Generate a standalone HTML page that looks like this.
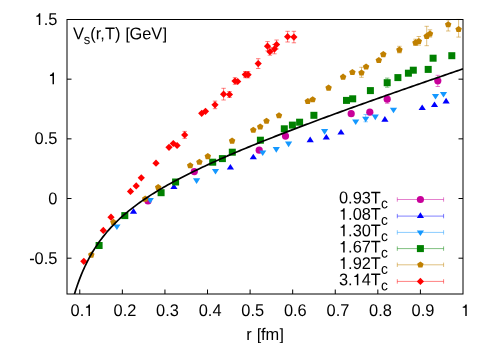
<!DOCTYPE html>
<html><head><meta charset="utf-8"><title>Vs(r,T)</title>
<style>
html,body{margin:0;padding:0;background:#fff;}
svg{display:block;will-change:transform;}
text{font-family:"Liberation Sans",sans-serif;font-size:16.4px;fill:#000;text-rendering:geometricPrecision;}
.sub{font-size:13.8px;}
.subs{font-size:13px;}
.hg{fill:none;}
</style></head>
<body>
<svg width="491" height="343" viewBox="0 0 491 343">
<rect x="0" y="0" width="491" height="343" fill="#fff"/>
<path d="M67.0 258.20h4.5M463.0 258.20h-4.5M67.0 198.52h4.5M463.0 198.52h-4.5M67.0 138.85h4.5M463.0 138.85h-4.5M67.0 79.17h4.5M463.0 79.17h-4.5M79.77 294.0v-4.5M122.35 294.0v-4.5M164.94 294.0v-4.5M207.52 294.0v-4.5M250.10 294.0v-4.5M292.68 294.0v-4.5M335.26 294.0v-4.5M377.84 294.0v-4.5M420.42 294.0v-4.5" stroke="#000" stroke-width="1" fill="none"/>
<text transform="translate(57.4 25.0) rotate(0.03) scale(1 1.035)" text-anchor="end"><tspan class="hg g1">1</tspan>.5</text>
<text transform="translate(57.4 84.2) rotate(0.03) scale(1 1.035)" text-anchor="end"><tspan class="hg g1">1</tspan></text>
<text transform="translate(57.4 144.0) rotate(0.03) scale(1 1.035)" text-anchor="end">0.5</text>
<text transform="translate(57.4 204.2) rotate(0.03) scale(1 1.035)" text-anchor="end">0</text>
<text transform="translate(57.4 264.0) rotate(0.03) scale(1 1.035)" text-anchor="end">-0.5</text>
<text transform="translate(82.0 316) rotate(0.03) scale(1 1.035)" text-anchor="middle">0.<tspan class="hg g1">1</tspan></text>
<text transform="translate(125.0 316) rotate(0.03) scale(1 1.035)" text-anchor="middle">0.2</text>
<text transform="translate(167.5 316) rotate(0.03) scale(1 1.035)" text-anchor="middle">0.3</text>
<text transform="translate(210.1 316) rotate(0.03) scale(1 1.035)" text-anchor="middle">0.4</text>
<text transform="translate(252.7 316) rotate(0.03) scale(1 1.035)" text-anchor="middle">0.5</text>
<text transform="translate(295.3 316) rotate(0.03) scale(1 1.035)" text-anchor="middle">0.6</text>
<text transform="translate(337.9 316) rotate(0.03) scale(1 1.035)" text-anchor="middle">0.7</text>
<text transform="translate(380.4 316) rotate(0.03) scale(1 1.035)" text-anchor="middle">0.8</text>
<text transform="translate(423.0 316) rotate(0.03) scale(1 1.035)" text-anchor="middle">0.9</text>
<text transform="translate(465.6 316) rotate(0.03) scale(1 1.035)" text-anchor="middle"><tspan class="hg g1">1</tspan></text>
<text transform="translate(265 340.0) rotate(0.03) scale(1 1.035)" text-anchor="middle">r <tspan class="hg gl">[</tspan>fm<tspan class="hg gr">]</tspan></text>
<text transform="translate(72.9 39.2) rotate(0.03) scale(1 1.035)">V<tspan class="subs" dy="4.6">s</tspan><tspan dy="-4.6">(r,T) <tspan class="hg gl">[</tspan>GeV<tspan class="hg gr">]</tspan></tspan></text>
<g><path d="M387.2 95.0V103.3M385.0 95.0H389.4M385.0 103.3H389.4" stroke="#c8009a" stroke-width="0.5" fill="none"/><path d="M437.8 75.3V86.5M435.6 75.3H440.0M435.6 86.5H440.0" stroke="#c8009a" stroke-width="0.5" fill="none"/><circle cx="148.0" cy="201.0" r="3.6" fill="#c8009a"/><circle cx="194.3" cy="171.6" r="3.6" fill="#c8009a"/><circle cx="259.2" cy="150.2" r="3.6" fill="#c8009a"/><circle cx="285.5" cy="136.1" r="3.6" fill="#c8009a"/><circle cx="351.2" cy="113.7" r="3.6" fill="#c8009a"/><circle cx="369.8" cy="112.2" r="3.6" fill="#c8009a"/><circle cx="387.2" cy="99.2" r="3.6" fill="#c8009a"/><circle cx="437.8" cy="80.8" r="3.6" fill="#c8009a"/></g>
<g><path d="M133.5 208.1L137.1 213.7H129.9Z" fill="#0000ff"/><path d="M173.9 183.5L177.5 189.1H170.3Z" fill="#0000ff"/><path d="M230.4 163.9L234.0 169.5H226.8Z" fill="#0000ff"/><path d="M253.3 153.7L256.9 159.3H249.7Z" fill="#0000ff"/><path d="M310.2 136.6L313.8 142.2H306.6Z" fill="#0000ff"/><path d="M326.3 133.9L329.9 139.5H322.7Z" fill="#0000ff"/><path d="M341.0 129.0L344.6 134.6H337.4Z" fill="#0000ff"/><path d="M384.9 116.1L388.5 121.7H381.3Z" fill="#0000ff"/><path d="M422.2 104.5L425.8 110.1H418.6Z" fill="#0000ff"/><path d="M434.5 101.5L438.1 107.1H430.9Z" fill="#0000ff"/><path d="M446.1 97.8L449.7 103.4H442.5Z" fill="#0000ff"/></g>
<g><path d="M365.7 114.5V121.8M363.5 114.5H367.9M363.5 121.8H367.9" stroke="#1498ff" stroke-width="0.5" fill="none"/><path d="M116.9 230.0L120.5 224.4H113.3Z" fill="#1498ff"/><path d="M150.3 203.5L153.9 197.9H146.7Z" fill="#1498ff"/><path d="M196.6 183.9L200.2 178.3H193.0Z" fill="#1498ff"/><path d="M215.5 174.5L219.1 168.9H211.9Z" fill="#1498ff"/><path d="M262.7 156.0L266.3 150.4H259.1Z" fill="#1498ff"/><path d="M276.3 152.7L279.9 147.1H272.7Z" fill="#1498ff"/><path d="M288.6 147.2L292.2 141.6H285.0Z" fill="#1498ff"/><path d="M324.6 134.7L328.2 129.1H321.0Z" fill="#1498ff"/><path d="M355.7 125.1L359.3 119.5H352.1Z" fill="#1498ff"/><path d="M365.7 122.3L369.3 116.7H362.1Z" fill="#1498ff"/><path d="M375.3 120.2L378.9 114.6H371.7Z" fill="#1498ff"/><path d="M393.5 113.3L397.1 107.7H389.9Z" fill="#1498ff"/><path d="M435.5 99.6L439.1 94.0H431.9Z" fill="#1498ff"/><path d="M443.5 97.6L447.1 92.0H439.9Z" fill="#1498ff"/></g>
<g><path d="M387.2 78.1V87.2M385.0 78.1H389.4M385.0 87.2H389.4" stroke="#008000" stroke-width="0.5" fill="none"/><rect x="95.6" y="242.0" width="7.0" height="7.0" fill="#008000"/><rect x="121.3" y="212.1" width="7.0" height="7.0" fill="#008000"/><rect x="157.6" y="189.2" width="7.0" height="7.0" fill="#008000"/><rect x="172.1" y="178.5" width="7.0" height="7.0" fill="#008000"/><rect x="209.2" y="158.7" width="7.0" height="7.0" fill="#008000"/><rect x="218.9" y="155.1" width="7.0" height="7.0" fill="#008000"/><rect x="228.8" y="148.7" width="7.0" height="7.0" fill="#008000"/><rect x="256.9" y="136.7" width="7.0" height="7.0" fill="#008000"/><rect x="280.8" y="125.3" width="7.0" height="7.0" fill="#008000"/><rect x="288.9" y="121.6" width="7.0" height="7.0" fill="#008000"/><rect x="296.1" y="118.7" width="7.0" height="7.0" fill="#008000"/><rect x="310.4" y="111.8" width="7.0" height="7.0" fill="#008000"/><rect x="343.0" y="96.9" width="7.0" height="7.0" fill="#008000"/><rect x="349.2" y="95.3" width="7.0" height="7.0" fill="#008000"/><rect x="366.9" y="87.1" width="7.0" height="7.0" fill="#008000"/><rect x="383.7" y="79.2" width="7.0" height="7.0" fill="#008000"/><rect x="394.4" y="74.1" width="7.0" height="7.0" fill="#008000"/><rect x="404.9" y="69.7" width="7.0" height="7.0" fill="#008000"/><rect x="409.8" y="66.7" width="7.0" height="7.0" fill="#008000"/><rect x="424.7" y="65.9" width="7.0" height="7.0" fill="#008000"/><rect x="429.6" y="54.7" width="7.0" height="7.0" fill="#008000"/><rect x="448.3" y="52.2" width="7.0" height="7.0" fill="#008000"/></g>
<g><path d="M361.5 67.3V77.3M359.3 67.3H363.7M359.3 77.3H363.7" stroke="#c08000" stroke-width="0.5" fill="none"/><path d="M399.4 46.3V52.9M397.2 46.3H401.6M397.2 52.9H401.6" stroke="#c08000" stroke-width="0.5" fill="none"/><path d="M415.5 39.2V45.5M413.3 39.2H417.7M413.3 45.5H417.7" stroke="#c08000" stroke-width="0.5" fill="none"/><path d="M418.8 36.5V45.1M416.6 36.5H421.0M416.6 45.1H421.0" stroke="#c08000" stroke-width="0.5" fill="none"/><path d="M426.7 26.3V45.7M424.5 26.3H428.9M424.5 45.7H428.9" stroke="#c08000" stroke-width="0.5" fill="none"/><path d="M430.0 29.8V37.1M427.8 29.8H432.2M427.8 37.1H432.2" stroke="#c08000" stroke-width="0.5" fill="none"/><path d="M448.2 19.8V31.0M446.0 19.8H450.4M446.0 31.0H450.4" stroke="#c08000" stroke-width="0.5" fill="none"/><path d="M458.6 19.4V37.1M456.4 19.4H460.8M456.4 37.1H460.8" stroke="#c08000" stroke-width="0.5" fill="none"/><polygon points="91.30,251.50 94.53,253.85 93.30,257.65 89.30,257.65 88.07,253.85" fill="#c08000"/><polygon points="113.40,218.80 116.63,221.15 115.40,224.95 111.40,224.95 110.17,221.15" fill="#c08000"/><polygon points="145.20,195.50 148.43,197.85 147.20,201.65 143.20,201.65 141.97,197.85" fill="#c08000"/><polygon points="158.20,184.00 161.43,186.35 160.20,190.15 156.20,190.15 154.97,186.35" fill="#c08000"/><polygon points="190.20,162.20 193.43,164.55 192.20,168.35 188.20,168.35 186.97,164.55" fill="#c08000"/><polygon points="199.40,158.70 202.63,161.05 201.40,164.85 197.40,164.85 196.17,161.05" fill="#c08000"/><polygon points="207.80,153.00 211.03,155.35 209.80,159.15 205.80,159.15 204.57,155.35" fill="#c08000"/><polygon points="232.10,137.50 235.33,139.85 234.10,143.65 230.10,143.65 228.87,139.85" fill="#c08000"/><polygon points="253.30,126.70 256.53,129.05 255.30,132.85 251.30,132.85 250.07,129.05" fill="#c08000"/><polygon points="260.20,123.40 263.43,125.75 262.20,129.55 258.20,129.55 256.97,125.75" fill="#c08000"/><polygon points="266.50,117.70 269.73,120.05 268.50,123.85 264.50,123.85 263.27,120.05" fill="#c08000"/><polygon points="279.00,112.20 282.23,114.55 281.00,118.35 277.00,118.35 275.77,114.55" fill="#c08000"/><polygon points="307.80,97.90 311.03,100.25 309.80,104.05 305.80,104.05 304.57,100.25" fill="#c08000"/><polygon points="312.70,96.20 315.93,98.55 314.70,102.35 310.70,102.35 309.47,98.55" fill="#c08000"/><polygon points="328.60,84.50 331.83,86.85 330.60,90.65 326.60,90.65 325.37,86.85" fill="#c08000"/><polygon points="343.10,73.60 346.33,75.95 345.10,79.75 341.10,79.75 339.87,75.95" fill="#c08000"/><polygon points="352.40,68.90 355.63,71.25 354.40,75.05 350.40,75.05 349.17,71.25" fill="#c08000"/><polygon points="361.50,69.40 364.73,71.75 363.50,75.55 359.50,75.55 358.27,71.75" fill="#c08000"/><polygon points="366.10,63.40 369.33,65.75 368.10,69.55 364.10,69.55 362.87,65.75" fill="#c08000"/><polygon points="378.80,56.90 382.03,59.25 380.80,63.05 376.80,63.05 375.57,59.25" fill="#c08000"/><polygon points="383.30,51.00 386.53,53.35 385.30,57.15 381.30,57.15 380.07,53.35" fill="#c08000"/><polygon points="399.40,46.50 402.63,48.85 401.40,52.65 397.40,52.65 396.17,48.85" fill="#c08000"/><polygon points="415.50,39.30 418.73,41.65 417.50,45.45 413.50,45.45 412.27,41.65" fill="#c08000"/><polygon points="418.80,37.90 422.03,40.25 420.80,44.05 416.80,44.05 415.57,40.25" fill="#c08000"/><polygon points="426.70,32.80 429.93,35.15 428.70,38.95 424.70,38.95 423.47,35.15" fill="#c08000"/><polygon points="430.00,30.40 433.23,32.75 432.00,36.55 428.00,36.55 426.77,32.75" fill="#c08000"/><polygon points="448.20,21.20 451.43,23.55 450.20,27.35 446.20,27.35 444.97,23.55" fill="#c08000"/><polygon points="458.60,25.90 461.83,28.25 460.60,32.05 456.60,32.05 455.37,28.25" fill="#c08000"/></g>
<g><path d="M184.7 131.4V138.4M182.5 131.4H186.9M182.5 138.4H186.9" stroke="#ff0000" stroke-width="0.5" fill="none"/><path d="M215.0 101.1V108.7M212.8 101.1H217.2M212.8 108.7H217.2" stroke="#ff0000" stroke-width="0.5" fill="none"/><path d="M223.6 88.3V100.0M221.4 88.3H225.8M221.4 100.0H225.8" stroke="#ff0000" stroke-width="0.5" fill="none"/><path d="M229.5 91.5V97.5M227.3 91.5H231.7M227.3 97.5H231.7" stroke="#ff0000" stroke-width="0.5" fill="none"/><path d="M235.0 77.7V84.3M232.8 77.7H237.2M232.8 84.3H237.2" stroke="#ff0000" stroke-width="0.5" fill="none"/><path d="M245.3 71.5V77.7M243.1 71.5H247.5M243.1 77.7H247.5" stroke="#ff0000" stroke-width="0.5" fill="none"/><path d="M248.1 71.6V77.8M245.9 71.6H250.3M245.9 77.8H250.3" stroke="#ff0000" stroke-width="0.5" fill="none"/><path d="M258.2 58.7V68.5M256.0 58.7H260.4M256.0 68.5H260.4" stroke="#ff0000" stroke-width="0.5" fill="none"/><path d="M267.5 41.6V50.8M265.3 41.6H269.7M265.3 50.8H269.7" stroke="#ff0000" stroke-width="0.5" fill="none"/><path d="M269.9 47.5V55.2M267.7 47.5H272.1M267.7 55.2H272.1" stroke="#ff0000" stroke-width="0.5" fill="none"/><path d="M274.4 44.5V53.8M272.2 44.5H276.6M272.2 53.8H276.6" stroke="#ff0000" stroke-width="0.5" fill="none"/><path d="M276.6 40.0V48.9M274.4 40.0H278.8M274.4 48.9H278.8" stroke="#ff0000" stroke-width="0.5" fill="none"/><path d="M287.6 31.3V42.0M285.4 31.3H289.8M285.4 42.0H289.8" stroke="#ff0000" stroke-width="0.5" fill="none"/><path d="M293.9 31.3V42.8M291.7 31.3H296.1M291.7 42.8H296.1" stroke="#ff0000" stroke-width="0.5" fill="none"/><path d="M83.8 257.7L87.4 261.3L83.8 264.9L80.2 261.3Z" fill="#ff0000"/><path d="M103.3 226.8L106.9 230.4L103.3 234.0L99.7 230.4Z" fill="#ff0000"/><path d="M111.0 213.6L114.6 217.2L111.0 220.8L107.4 217.2Z" fill="#ff0000"/><path d="M130.5 187.8L134.1 191.4L130.5 195.0L126.9 191.4Z" fill="#ff0000"/><path d="M136.2 182.3L139.8 185.9L136.2 189.5L132.6 185.9Z" fill="#ff0000"/><path d="M141.3 174.2L144.9 177.8L141.3 181.4L137.7 177.8Z" fill="#ff0000"/><path d="M156.0 159.6L159.6 163.2L156.0 166.8L152.4 163.2Z" fill="#ff0000"/><path d="M169.0 143.7L172.6 147.3L169.0 150.9L165.4 147.3Z" fill="#ff0000"/><path d="M173.3 139.9L176.9 143.5L173.3 147.1L169.7 143.5Z" fill="#ff0000"/><path d="M177.1 141.9L180.7 145.5L177.1 149.1L173.5 145.5Z" fill="#ff0000"/><path d="M184.7 131.3L188.3 134.9L184.7 138.5L181.1 134.9Z" fill="#ff0000"/><path d="M201.7 109.7L205.3 113.3L201.7 116.9L198.1 113.3Z" fill="#ff0000"/><path d="M205.5 107.7L209.1 111.3L205.5 114.9L201.9 111.3Z" fill="#ff0000"/><path d="M215.0 101.2L218.6 104.8L215.0 108.4L211.4 104.8Z" fill="#ff0000"/><path d="M223.6 90.6L227.2 94.2L223.6 97.8L220.0 94.2Z" fill="#ff0000"/><path d="M229.5 90.9L233.1 94.5L229.5 98.1L225.9 94.5Z" fill="#ff0000"/><path d="M235.0 77.4L238.6 81.0L235.0 84.6L231.4 81.0Z" fill="#ff0000"/><path d="M237.7 77.9L241.3 81.5L237.7 85.1L234.1 81.5Z" fill="#ff0000"/><path d="M245.3 71.0L248.9 74.6L245.3 78.2L241.7 74.6Z" fill="#ff0000"/><path d="M248.1 71.1L251.7 74.7L248.1 78.3L244.5 74.7Z" fill="#ff0000"/><path d="M258.2 60.0L261.8 63.6L258.2 67.2L254.6 63.6Z" fill="#ff0000"/><path d="M267.5 42.6L271.1 46.2L267.5 49.8L263.9 46.2Z" fill="#ff0000"/><path d="M269.9 48.1L273.5 51.7L269.9 55.3L266.3 51.7Z" fill="#ff0000"/><path d="M274.4 45.5L278.0 49.1L274.4 52.7L270.8 49.1Z" fill="#ff0000"/><path d="M276.6 40.9L280.2 44.5L276.6 48.1L273.0 44.5Z" fill="#ff0000"/><path d="M287.6 33.1L291.2 36.7L287.6 40.3L284.0 36.7Z" fill="#ff0000"/><path d="M293.9 33.5L297.5 37.1L293.9 40.7L290.3 37.1Z" fill="#ff0000"/></g>
<clipPath id="cp"><rect x="67.0" y="19.5" width="396.0" height="274.5"/></clipPath>
<polyline points="73.60,297.01 75.56,290.58 77.51,284.71 79.47,279.34 81.43,274.38 83.38,269.79 85.34,265.52 87.30,261.53 89.25,257.80 91.21,254.29 93.17,250.99 95.12,247.87 97.08,244.91 99.04,242.09 100.99,239.42 102.95,236.86 104.91,234.42 106.87,232.07 108.82,229.83 110.78,227.66 112.74,225.58 114.69,223.57 116.65,221.63 118.61,219.76 120.56,217.94 122.52,216.18 124.48,214.46 126.43,212.80 128.39,211.18 130.35,209.60 132.30,208.06 134.26,206.56 136.22,205.10 138.17,203.66 140.13,202.26 142.09,200.88 144.04,199.54 146.00,198.22 147.96,196.92 149.91,195.65 151.87,194.40 153.83,193.17 155.78,191.96 157.74,190.77 159.70,189.60 161.66,188.44 163.61,187.30 165.57,186.18 167.53,185.07 169.48,183.98 171.44,182.90 173.40,181.83 175.35,180.78 177.31,179.73 179.27,178.70 181.22,177.68 183.18,176.67 185.14,175.68 187.09,174.69 189.05,173.71 191.01,172.74 192.96,171.78 194.92,170.82 196.88,169.88 198.83,168.94 200.79,168.01 202.75,167.09 204.70,166.17 206.66,165.26 208.62,164.36 210.57,163.46 212.53,162.57 214.49,161.69 216.45,160.81 218.40,159.94 220.36,159.07 222.32,158.21 224.27,157.35 226.23,156.50 228.19,155.65 230.14,154.81 232.10,153.97 234.06,153.13 236.01,152.30 237.97,151.47 239.93,150.65 241.88,149.83 243.84,149.02 245.80,148.21 247.75,147.40 249.71,146.59 251.67,145.79 253.62,144.99 255.58,144.20 257.54,143.41 259.49,142.62 261.45,141.83 263.41,141.05 265.36,140.27 267.32,139.49 269.28,138.72 271.24,137.94 273.19,137.17 275.15,136.41 277.11,135.64 279.06,134.88 281.02,134.12 282.98,133.36 284.93,132.60 286.89,131.85 288.85,131.09 290.80,130.34 292.76,129.60 294.72,128.85 296.67,128.10 298.63,127.36 300.59,126.62 302.54,125.88 304.50,125.14 306.46,124.41 308.41,123.67 310.37,122.94 312.33,122.21 314.28,121.48 316.24,120.75 318.20,120.02 320.15,119.30 322.11,118.57 324.07,117.85 326.03,117.13 327.98,116.41 329.94,115.69 331.90,114.97 333.85,114.26 335.81,113.54 337.77,112.83 339.72,112.12 341.68,111.41 343.64,110.69 345.59,109.99 347.55,109.28 349.51,108.57 351.46,107.86 353.42,107.16 355.38,106.46 357.33,105.75 359.29,105.05 361.25,104.35 363.20,103.65 365.16,102.95 367.12,102.25 369.07,101.55 371.03,100.86 372.99,100.16 374.94,99.47 376.90,98.77 378.86,98.08 380.82,97.39 382.77,96.70 384.73,96.00 386.69,95.31 388.64,94.62 390.60,93.94 392.56,93.25 394.51,92.56 396.47,91.87 398.43,91.19 400.38,90.50 402.34,89.82 404.30,89.13 406.25,88.45 408.21,87.77 410.17,87.09 412.12,86.41 414.08,85.72 416.04,85.04 417.99,84.37 419.95,83.69 421.91,83.01 423.86,82.33 425.82,81.65 427.78,80.98 429.73,80.30 431.69,79.62 433.65,78.95 435.61,78.27 437.56,77.60 439.52,76.93 441.48,76.25 443.43,75.58 445.39,74.91 447.35,74.24 449.30,73.56 451.26,72.89 453.22,72.22 455.17,71.55 457.13,70.88 459.09,70.21 461.04,69.54 463.00,68.88" fill="none" stroke="#000" stroke-width="1.7" stroke-linejoin="round" clip-path="url(#cp)"/>
<text transform="translate(387.8 203.4) rotate(0.03) scale(1 1.035)" text-anchor="end">0.93T<tspan class="sub" dy="4.7">c</tspan></text>
<path d="M397.3 199.5H443.6M397.3 197.3v4.4M443.6 197.3v4.4" stroke="#c8009a" stroke-width="0.5" fill="none"/><circle cx="420.4" cy="199.5" r="3.6" fill="#c8009a"/>
<text transform="translate(387.8 219.78) rotate(0.03) scale(1 1.035)" text-anchor="end"><tspan class="hg g1">1</tspan>.08T<tspan class="sub" dy="4.7">c</tspan></text>
<path d="M397.3 216.1H443.6M397.3 213.9v4.4M443.6 213.9v4.4" stroke="#0000ff" stroke-width="0.5" fill="none"/><path d="M420.4 212.3L424.0 217.9H416.8Z" fill="#0000ff"/>
<text transform="translate(387.8 236.16) rotate(0.03) scale(1 1.035)" text-anchor="end"><tspan class="hg g1">1</tspan>.30T<tspan class="sub" dy="4.7">c</tspan></text>
<path d="M397.3 232.4H443.6M397.3 230.2v4.4M443.6 230.2v4.4" stroke="#1498ff" stroke-width="0.5" fill="none"/><path d="M420.4 236.1L424.0 230.5H416.8Z" fill="#1498ff"/>
<text transform="translate(387.8 252.54) rotate(0.03) scale(1 1.035)" text-anchor="end"><tspan class="hg g1">1</tspan>.67T<tspan class="sub" dy="4.7">c</tspan></text>
<path d="M397.3 248.6H443.6M397.3 246.4v4.4M443.6 246.4v4.4" stroke="#008000" stroke-width="0.5" fill="none"/><rect x="416.9" y="245.1" width="7.0" height="7.0" fill="#008000"/>
<text transform="translate(387.8 268.92) rotate(0.03) scale(1 1.035)" text-anchor="end"><tspan class="hg g1">1</tspan>.92T<tspan class="sub" dy="4.7">c</tspan></text>
<path d="M397.3 264.8H443.6M397.3 262.6v4.4M443.6 262.6v4.4" stroke="#c08000" stroke-width="0.5" fill="none"/><polygon points="420.40,261.40 423.63,263.75 422.40,267.55 418.40,267.55 417.17,263.75" fill="#c08000"/>
<text transform="translate(387.8 285.3) rotate(0.03) scale(1 1.035)" text-anchor="end">3.<tspan class="hg g1">1</tspan>4T<tspan class="sub" dy="4.7">c</tspan></text>
<path d="M397.3 281.4H443.6M397.3 279.2v4.4M443.6 279.2v4.4" stroke="#ff0000" stroke-width="0.5" fill="none"/><path d="M420.4 277.8L424.0 281.4L420.4 285.0L416.8 281.4Z" fill="#ff0000"/>
<rect x="67.0" y="19.5" width="396.0" height="274.5" fill="none" stroke="#000" stroke-width="1"/>
<g id="ones" fill="#000"><path d="M4.14 0V-8.08H1.63V-9.09C2.94-9.25 3.71-9.62 4.43-11.34H5.55V0Z" transform="translate(34.60 24.99) scale(1.0250)"/><path d="M4.14 0V-8.08H1.63V-9.09C2.94-9.25 3.71-9.62 4.43-11.34H5.55V0Z" transform="translate(48.28 84.20) scale(1.0250)"/><path d="M4.14 0V-8.08H1.63V-9.09C2.94-9.25 3.71-9.62 4.43-11.34H5.55V0Z" transform="translate(84.27 316.00) scale(1.0250)"/><path d="M4.14 0V-8.08H1.63V-9.09C2.94-9.25 3.71-9.62 4.43-11.34H5.55V0Z" transform="translate(461.04 316.00) scale(1.0250)"/><path d="M1.61 3.14V-11.55H4.6V-10.56H2.95V2.14H4.6V3.14Z" transform="translate(256.34 340.00) scale(1.0250)"/><path d="M3.54 3.14V-11.55H0.55V-10.56H2.2V2.14H0.55V3.14Z" transform="translate(279.12 340.01) scale(1.0250)"/><path d="M1.61 3.14V-11.55H4.6V-10.56H2.95V2.14H4.6V3.14Z" transform="translate(124.93 39.23) scale(1.0250)"/><path d="M3.54 3.14V-11.55H0.55V-10.56H2.2V2.14H0.55V3.14Z" transform="translate(162.31 39.25) scale(1.0250)"/><path d="M4.14 0V-8.08H1.63V-9.09C2.94-9.25 3.71-9.62 4.43-11.34H5.55V0Z" transform="translate(338.96 219.75) scale(1.0250)"/><path d="M4.14 0V-8.08H1.63V-9.09C2.94-9.25 3.71-9.62 4.43-11.34H5.55V0Z" transform="translate(338.96 236.13) scale(1.0250)"/><path d="M4.14 0V-8.08H1.63V-9.09C2.94-9.25 3.71-9.62 4.43-11.34H5.55V0Z" transform="translate(338.96 252.51) scale(1.0250)"/><path d="M4.14 0V-8.08H1.63V-9.09C2.94-9.25 3.71-9.62 4.43-11.34H5.55V0Z" transform="translate(338.96 268.89) scale(1.0250)"/><path d="M4.14 0V-8.08H1.63V-9.09C2.94-9.25 3.71-9.62 4.43-11.34H5.55V0Z" transform="translate(352.63 285.28) scale(1.0250)"/></g>
</svg>
</body></html>
